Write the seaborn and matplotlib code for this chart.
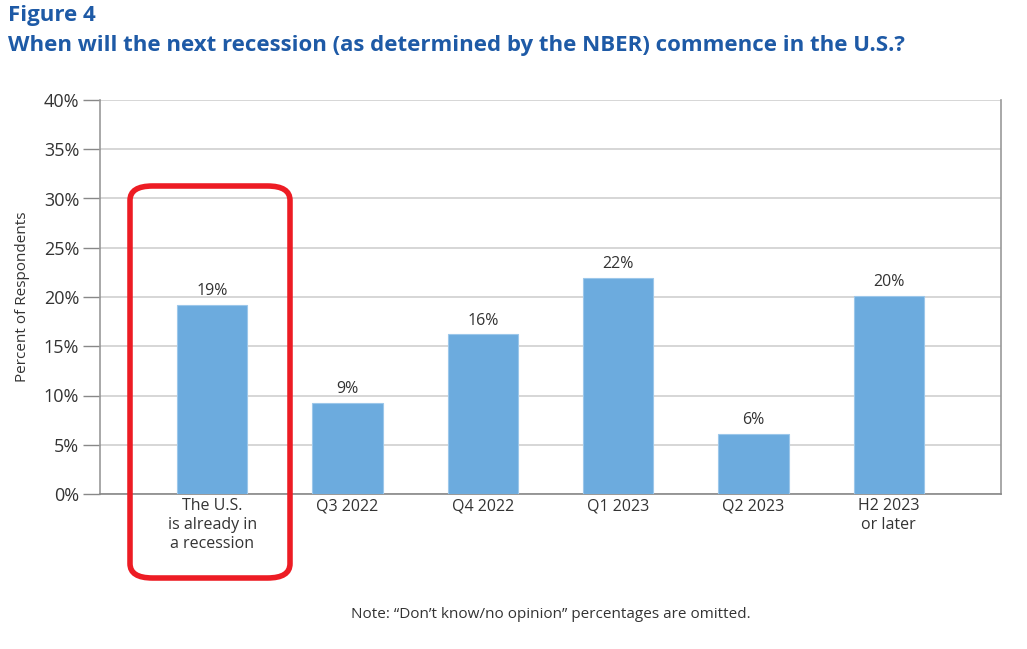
import pandas as pd
import seaborn as sns
import matplotlib.pyplot as plt
from matplotlib.patches import FancyBboxPatch

categories = ['The U.S.\nis already in\na recession', 'Q3 2022', 'Q4 2022',
              'Q1 2023', 'Q2 2023', 'H2 2023\nor later']
percent = [19.2, 9.2, 16.2, 21.9, 6.1, 20.1]
value_labels = ['19%', '9%', '16%', '22%', '6%', '20%']
y_ticks = [0, 5, 10, 15, 20, 25, 30, 35, 40]

df = pd.DataFrame({'when': categories, 'pct': percent})

sns.set_theme(style="white")
plt.rcParams['font.family'] = ['Open Sans', 'DejaVu Sans']

fig = plt.figure(figsize=(10.27, 6.49), dpi=100)
ax = fig.add_axes([100 / 1027, 1 - 494 / 649, 901 / 1027, 394 / 649])

sns.barplot(data=df, x='when', y='pct', color='#6CABDE', width=0.52,
            saturation=1, edgecolor='#9CC7EA', linewidth=0.8, ax=ax, zorder=3)

for i, (v, lab) in enumerate(zip(percent, value_labels)):
    ax.text(i, v + 0.6, lab, ha='center', va='bottom', fontsize=11.5, color='#333333')

ax.set_xlim(-0.83, 5.83)
ax.set_ylim(0, 40)
ax.set_yticks(y_ticks)
ax.set_yticklabels([f'{t}%' for t in y_ticks], fontsize=13, color='#333333')
ax.tick_params(axis='y', length=12, width=1, color='#888888', pad=3, left=True)
ax.tick_params(axis='x', length=0, labelsize=11.5, labelcolor='#333333', pad=3)
for t in ax.get_xticklabels():
    t.set_linespacing(1.25)
ax.yaxis.grid(True, color='#D0D0D0', linewidth=1.2, zorder=0)
ax.set_axisbelow(True)
for s in ['left', 'right']:
    ax.spines[s].set_color('#999999')
    ax.spines[s].set_linewidth(1.2)
ax.spines['bottom'].set_color('#888888')
ax.spines['bottom'].set_linewidth(1.2)
ax.spines['top'].set_visible(False)
ax.set_xlabel('')
ax.set_ylabel('Percent of Respondents', fontsize=11, color='#333333', labelpad=10)

title_color = '#1E5AA6'
fig.text(8 / 1027, 1 - 15 / 649, 'Figure 4', fontsize=16, fontweight='bold',
         color=title_color, va='center')
fig.text(8 / 1027, 1 - 45 / 649,
         'When will the next recession (as determined by the NBER) commence in the U.S.?',
         fontsize=16, fontweight='bold', color=title_color, va='center')
fig.text(551 / 1027, 1 - 614 / 649,
         'Note: \u201cDon\u2019t know/no opinion\u201d percentages are omitted.',
         fontsize=11, color='#333333', ha='center', va='center')

box = FancyBboxPatch((130 / 1027, 1 - 578 / 649), 160 / 1027, 392 / 649,
                     boxstyle='round,pad=0,rounding_size=0.022',
                     transform=fig.transFigure, fill=False,
                     edgecolor='#ED1C24', linewidth=4, zorder=10)
fig.patches.append(box)

fig.savefig('out.png', dpi=100)
